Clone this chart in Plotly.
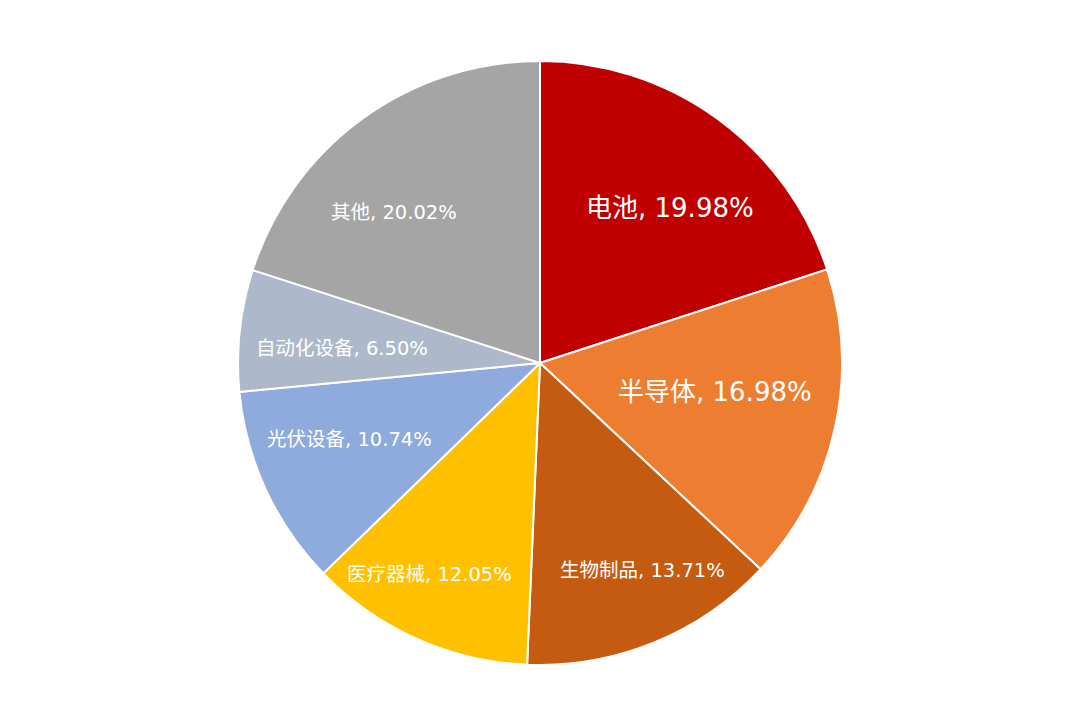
import math
import plotly.graph_objects as go

categories = ["电池", "半导体", "生物制品", "医疗器械", "光伏设备", "自动化设备", "其他"]
shares = [19.98, 16.98, 13.71, 12.05, 10.74, 6.50, 20.02]
colors = ["#C00000", "#ED7D31", "#C55A11", "#FFC000", "#8FAADC", "#ADB9CA", "#A5A5A5"]

# label styling (per slice): font size, radial position (fraction of radius), angular nudge (deg)
label_sizes = [26, 26, 19.5, 19.5, 19.5, 19.5, 19.5]
label_radius = [0.669, 0.586, 0.765, 0.788, 0.679, 0.659, 0.695]
label_nudge = [4, -3, -4, 3.4, 3, -2, -8]

texts = [f"{c}, {v:.2f}%" for c, v in zip(categories, shares)]

# page body has an 8px margin, so shift the domain to land the pie centre at (540, 363)
W, H, OFF = 1080, 728, 8
cx, cy, R = 540 - OFF, 363 - OFF, 302

fig = go.Figure(go.Pie(
    labels=categories,
    values=shares,
    textinfo="none",
    sort=False,
    direction="clockwise",
    rotation=0,
    marker=dict(colors=colors, line=dict(color="white", width=2)),
    domain=dict(x=[(cx - R) / W, (cx + R) / W], y=[1 - (cy + R) / H, 1 - (cy - R) / H]),
    showlegend=False,
    hoverinfo="label+value",
))

total = sum(shares)
cum = 0.0
for t, v, s, f, n in zip(texts, shares, label_sizes, label_radius, label_nudge):
    mid = (cum + v / 2) / total * 360 + n
    cum += v
    a = math.radians(mid)
    px = cx + R * f * math.sin(a)
    py = cy - R * f * math.cos(a)
    fig.add_annotation(
        x=px / W, y=1 - py / H, xref="paper", yref="paper",
        text=t, showarrow=False, xanchor="center", yanchor="middle",
        font=dict(family="DejaVu Sans, Noto Sans CJK SC", size=s, color="white"),
    )

fig.update_layout(
    width=W, height=H,
    margin=dict(l=0, r=0, t=0, b=0),
    paper_bgcolor="white",
    plot_bgcolor="white",
)
fig.write_html("out.html")
